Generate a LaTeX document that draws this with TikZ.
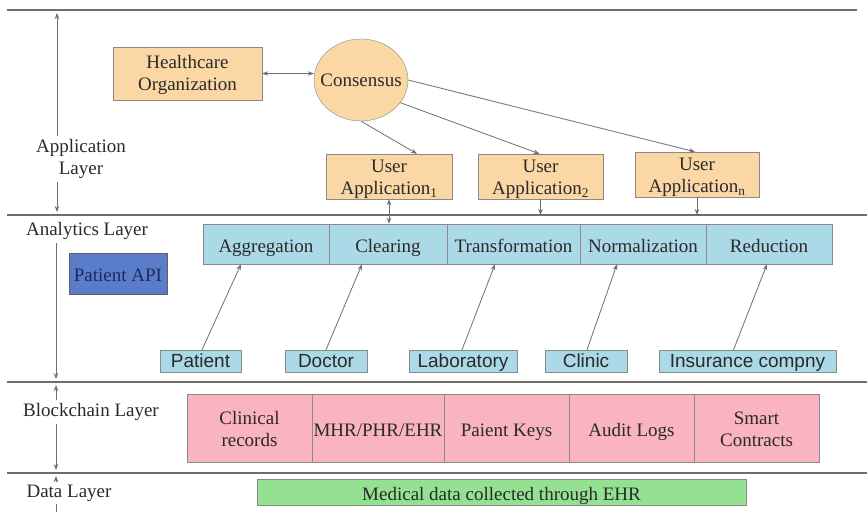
\documentclass[tikz,border=0pt]{standalone}
\usepackage{fontspec}
\setmainfont{Liberation Serif}
\setsansfont{Liberation Sans}
\usetikzlibrary{arrows.meta,shapes.geometric}

\definecolor{appfill}{HTML}{FAD7A4}
\definecolor{anfill}{HTML}{ABD9E7}
\definecolor{apifill}{HTML}{5B7CC8}
\definecolor{apitext}{HTML}{1C2B5E}
\definecolor{chainfill}{HTML}{FAB3C0}
\definecolor{datafill}{HTML}{94E191}
\definecolor{boxgray}{HTML}{8A8A8A}
\definecolor{linegray}{HTML}{6E6E6E}
\definecolor{txtgray}{HTML}{2A2A2A}

\begin{document}
\begin{tikzpicture}[x=1pt,y=-1pt,
    font=\fontsize{19}{22}\selectfont, text=txtgray,
    conn/.style={draw=linegray, line width=0.8pt, -{Stealth[length=6pt,width=4.5pt]}},
    dconn/.style={conn, {Stealth[length=6pt,width=4.5pt]}-{Stealth[length=6pt,width=4.5pt]}},
    layerline/.style={draw=linegray, line width=1.2pt},
    layerlabel/.style={align=center, inner sep=3pt},
    appbox/.style={draw=boxgray, fill=appfill, align=center, inner sep=0pt},
    onebox/.style={text height=17pt, text depth=1pt},
    anbox/.style={draw=boxgray, fill=anfill, minimum height=40pt, inner sep=0pt, onebox},
    entbox/.style={draw=boxgray, fill=anfill, font=\sffamily\fontsize{19}{22}\selectfont,
        minimum height=22pt, inner sep=0pt, text height=15pt, text depth=1.5pt},
    chainbox/.style={draw=boxgray, fill=chainfill, minimum width=125pt, minimum height=68pt,
        align=center, inner sep=0pt}]

    \useasboundingbox (0,0) rectangle (867,512);

    % layer borders
    \draw[layerline] (7,10) -- (857,10);
    \draw[layerline] (7,215) -- (867,215);
    \draw[layerline] (7,382) -- (867,382);
    \draw[layerline] (7,473) -- (867,473);

    \coordinate (appTop) at (57,13);
    \coordinate (appBot) at (57,212);
    \coordinate (anLine) at (56,215);
    \coordinate (anBot) at (56,379);
    \coordinate (bcTop) at (56,385);
    \coordinate (bcBot) at (56,470);
    \coordinate (dTop) at (56,476);
    \coordinate (dEnd) at (56,512);

    % layer names
    \node[layerlabel] (applab) at (81,159) {Application\\Layer};
    \node[layerlabel] (anlab) at (87,231) {Analytics Layer};
    \node[layerlabel] (bclab) at (91,412) {Blockchain Layer};
    \node[layerlabel] (dlab) at (69,493) {Data Layer};

    \draw[conn] (applab.north -| appTop) -- (appTop);
    \draw[conn] (applab.south -| appBot) -- (appBot);
    \draw[conn] (anlab.south -| anBot) -- (anBot);
    \draw[conn] (bclab.north -| bcTop) -- (bcTop);
    \draw[conn] (bclab.south -| bcBot) -- (bcBot);
    \draw[conn] (dlab.north -| dTop) -- (dTop);
    \draw[draw=linegray, line width=0.8pt] (dlab.south -| dEnd) -- (dEnd);

    % application layer
    \node[appbox, minimum width=149pt, minimum height=53pt] (ho) at (187.5,73.5) {\rule{0pt}{17pt}Healthcare\\Organization};
    \node[draw=boxgray, fill=appfill, ellipse, minimum width=94pt, minimum height=82pt, inner xsep=-7.5pt, inner ysep=0pt] (cons) at (361,80) {Consensus};
    \node[appbox, minimum width=126pt, minimum height=39pt] (ua1) at (389,176.5) {\rule{0pt}{19pt}User\\Application\textsubscript{1}};
    \node[appbox, minimum width=125pt, minimum height=39pt] (ua2) at (540.5,176.5) {\rule{0pt}{19pt}User\\Application\textsubscript{2}};
    \node[appbox, minimum width=124pt, minimum height=39pt] (uan) at (697,174.5) {\rule{0pt}{19pt}User\\Application\textsubscript{n}};

    \draw[dconn] (ho.east) -- (ho.east -| cons.west);
    \draw[conn] (cons.south) -- ([xshift=28pt]ua1.north);
    \draw[conn] (cons.-30) -- ([xshift=-1pt]ua2.north);
    \draw[conn] (cons.east) -- ([xshift=-2pt]uan.north);

    % analytics layer
    \node[anbox, minimum width=126pt] (agg) at (266,244) {Aggregation};
    \node[anbox, minimum width=118pt] (clear) at (388,244) {Clearing};
    \node[anbox, minimum width=133pt] (trans) at (513.5,244) {Transformation};
    \node[anbox, minimum width=126pt] (norm) at (643,244) {Normalization};
    \node[anbox, minimum width=126pt] (red) at (769,244) {Reduction};

    \node[draw=boxgray!70!black, fill=apifill, text=apitext, minimum width=98pt, minimum height=41pt, inner sep=0pt, onebox] (api) at (118,273.5) {Patient API};

    \draw[dconn] (ua1.south) -- (ua1.south |- clear.north);
    \draw[conn] (ua2.south) -- (ua2.south |- anLine);
    \draw[conn] (uan.south) -- (uan.south |- anLine);

    \node[entbox, minimum width=81pt] (pat) at (200.5,361) {Patient};
    \node[entbox, minimum width=82pt] (doc) at (326,361) {Doctor};
    \node[entbox, minimum width=108pt] (lab) at (463,361) {Laboratory};
    \node[entbox, minimum width=82pt] (clin) at (586,361) {Clinic};
    \node[entbox, minimum width=177pt] (ins) at (747.5,361) {Insurance compny};

    \draw[conn] ([xshift=1.5pt]pat.north) -- ([xshift=-25pt]agg.south);
    \draw[conn] (doc.north) -- ([xshift=-26pt]clear.south);
    \draw[conn] ([xshift=-1pt]lab.north) -- ([xshift=-18.5pt]trans.south);
    \draw[conn] ([xshift=1pt]clin.north) -- ([xshift=-26pt]norm.south);
    \draw[conn] ([xshift=-14pt]ins.north) -- ([xshift=-2pt]red.south);

    % blockchain layer
    \node[chainbox] (clinrec) at (249.5,428) {\rule{0pt}{15pt}Clinical\\records};
    \node[chainbox, minimum width=132pt, onebox] (mhr) at (378,428) {MHR/PHR/EHR};
    \node[chainbox, onebox] (keys) at (506.5,428) {Paient Keys};
    \node[chainbox, onebox] (audit) at (631.5,428) {Audit Logs};
    \node[chainbox] (smart) at (756.5,428) {\rule{0pt}{15pt}Smart\\Contracts};

    % data layer
    \node[draw=boxgray, fill=datafill, minimum width=489pt, minimum height=26pt, inner sep=0pt, onebox] (ehr) at (501.5,492) {Medical data collected through EHR};

\end{tikzpicture}
\end{document}
